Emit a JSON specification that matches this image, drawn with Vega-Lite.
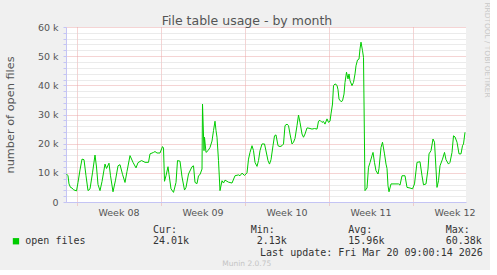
{
  "$schema": "https://vega.github.io/schema/vega-lite/v6.json",
  "background": "#f0f0f0",
  "padding": {"left": 4, "top": 1, "right": 0, "bottom": 0},
  "autosize": {"type": "pad"},
  "spacing": 7,
  "config": {
    "font": "DejaVu Sans",
    "view": {"stroke": null}
  },
  "vconcat": [
    {
      "width": 400,
      "height": 175,
      "view": {"fill": "white", "stroke": null},
      "title": {"text": "File table usage - by month", "fontSize": 12.5, "fontWeight": "normal", "color": "#555555", "font": "DejaVu Sans", "anchor": "middle", "frame": "group", "dx": -19, "offset": -26},
      "data": {"values": [
        {"hour": -20, "open_files": 9600}, {"hour": -17, "open_files": 9000}, {"hour": -15, "open_files": 6200}, {"hour": -12, "open_files": 5000}, {"hour": -9, "open_files": 4800}, {"hour": -6, "open_files": 4200}, {"hour": 0, "open_files": 3800}, {"hour": 3, "open_files": 6700}, {"hour": 7, "open_files": 11000}, {"hour": 11, "open_files": 14700}, {"hour": 15, "open_files": 14500}, {"hour": 19, "open_files": 9000}, {"hour": 23, "open_files": 3900}, {"hour": 27, "open_files": 4500}, {"hour": 32, "open_files": 10000}, {"hour": 37, "open_files": 16100}, {"hour": 40, "open_files": 12000}, {"hour": 43, "open_files": 6000}, {"hour": 47, "open_files": 3900}, {"hour": 51, "open_files": 7000}, {"hour": 57, "open_files": 13000}, {"hour": 60, "open_files": 11500}, {"hour": 65, "open_files": 13300}, {"hour": 68, "open_files": 9000}, {"hour": 73, "open_files": 3500}, {"hour": 78, "open_files": 7500}, {"hour": 83, "open_files": 12400}, {"hour": 87, "open_files": 12800}, {"hour": 92, "open_files": 9500}, {"hour": 97, "open_files": 6700}, {"hour": 101, "open_files": 10500}, {"hour": 107, "open_files": 15900}, {"hour": 113, "open_files": 13600}, {"hour": 119, "open_files": 11700}, {"hour": 123, "open_files": 13500}, {"hour": 130, "open_files": 14200}, {"hour": 135, "open_files": 13800}, {"hour": 137, "open_files": 13600}, {"hour": 144, "open_files": 13600}, {"hour": 147, "open_files": 16500}, {"hour": 154, "open_files": 17000}, {"hour": 157, "open_files": 17300}, {"hour": 161, "open_files": 16800}, {"hour": 167, "open_files": 16800}, {"hour": 172, "open_files": 19000}, {"hour": 174, "open_files": 18500}, {"hour": 176, "open_files": 7100}, {"hour": 179, "open_files": 9000}, {"hour": 183, "open_files": 12100}, {"hour": 185, "open_files": 9500}, {"hour": 189, "open_files": 4500}, {"hour": 194, "open_files": 3300}, {"hour": 199, "open_files": 6700}, {"hour": 202, "open_files": 14200}, {"hour": 207, "open_files": 14000}, {"hour": 211, "open_files": 8600}, {"hour": 216, "open_files": 4100}, {"hour": 219, "open_files": 5000}, {"hour": 224, "open_files": 9600}, {"hour": 231, "open_files": 12100}, {"hour": 234, "open_files": 12400}, {"hour": 237, "open_files": 6700}, {"hour": 241, "open_files": 6300}, {"hour": 244, "open_files": 9000}, {"hour": 247, "open_files": 9400}, {"hour": 251, "open_files": 11300}, {"hour": 252, "open_files": 33600}, {"hour": 255, "open_files": 17600}, {"hour": 256, "open_files": 22200}, {"hour": 259, "open_files": 17000}, {"hour": 263, "open_files": 17600}, {"hour": 267, "open_files": 18700}, {"hour": 271, "open_files": 20900}, {"hour": 274, "open_files": 24500}, {"hour": 277, "open_files": 27700}, {"hour": 279, "open_files": 24500}, {"hour": 281, "open_files": 22200}, {"hour": 284, "open_files": 14200}, {"hour": 287, "open_files": 3900}, {"hour": 291, "open_files": 7300}, {"hour": 294, "open_files": 6500}, {"hour": 297, "open_files": 7500}, {"hour": 304, "open_files": 6800}, {"hour": 311, "open_files": 6500}, {"hour": 317, "open_files": 9000}, {"hour": 324, "open_files": 9300}, {"hour": 327, "open_files": 9000}, {"hour": 331, "open_files": 9900}, {"hour": 336, "open_files": 9100}, {"hour": 341, "open_files": 10000}, {"hour": 344, "open_files": 14700}, {"hour": 347, "open_files": 17000}, {"hour": 351, "open_files": 19300}, {"hour": 354, "open_files": 17600}, {"hour": 357, "open_files": 13600}, {"hour": 361, "open_files": 12200}, {"hour": 364, "open_files": 14200}, {"hour": 367, "open_files": 17600}, {"hour": 371, "open_files": 19900}, {"hour": 376, "open_files": 19900}, {"hour": 379, "open_files": 17500}, {"hour": 383, "open_files": 14200}, {"hour": 386, "open_files": 13000}, {"hour": 389, "open_files": 14500}, {"hour": 393, "open_files": 19300}, {"hour": 396, "open_files": 22700}, {"hour": 399, "open_files": 23000}, {"hour": 403, "open_files": 19300}, {"hour": 407, "open_files": 19000}, {"hour": 411, "open_files": 19300}, {"hour": 414, "open_files": 19900}, {"hour": 417, "open_files": 26200}, {"hour": 421, "open_files": 26700}, {"hour": 424, "open_files": 26200}, {"hour": 427, "open_files": 23300}, {"hour": 431, "open_files": 19900}, {"hour": 434, "open_files": 20500}, {"hour": 437, "open_files": 21800}, {"hour": 441, "open_files": 26200}, {"hour": 444, "open_files": 29800}, {"hour": 447, "open_files": 27300}, {"hour": 451, "open_files": 23300}, {"hour": 454, "open_files": 22200}, {"hour": 457, "open_files": 23300}, {"hour": 461, "open_files": 25400}, {"hour": 465, "open_files": 25300}, {"hour": 471, "open_files": 25000}, {"hour": 476, "open_files": 25200}, {"hour": 481, "open_files": 25000}, {"hour": 484, "open_files": 27700}, {"hour": 487, "open_files": 28000}, {"hour": 491, "open_files": 27300}, {"hour": 494, "open_files": 27600}, {"hour": 497, "open_files": 26700}, {"hour": 501, "open_files": 28500}, {"hour": 504, "open_files": 27300}, {"hour": 507, "open_files": 27700}, {"hour": 509, "open_files": 30200}, {"hour": 512, "open_files": 33600}, {"hour": 514, "open_files": 39900}, {"hour": 517, "open_files": 40500}, {"hour": 521, "open_files": 40000}, {"hour": 523, "open_files": 38500}, {"hour": 525, "open_files": 35300}, {"hour": 529, "open_files": 34400}, {"hour": 532, "open_files": 34700}, {"hour": 535, "open_files": 37000}, {"hour": 537, "open_files": 41000}, {"hour": 540, "open_files": 44500}, {"hour": 543, "open_files": 42200}, {"hour": 545, "open_files": 43900}, {"hour": 547, "open_files": 41600}, {"hour": 551, "open_files": 39900}, {"hour": 554, "open_files": 41000}, {"hour": 557, "open_files": 43900}, {"hour": 559, "open_files": 46700}, {"hour": 562, "open_files": 48700}, {"hour": 565, "open_files": 49000}, {"hour": 567, "open_files": 52500}, {"hour": 569, "open_files": 54800}, {"hour": 572, "open_files": 51900}, {"hour": 574, "open_files": 49600}, {"hour": 577, "open_files": 3900}, {"hour": 581, "open_files": 4800}, {"hour": 584, "open_files": 11900}, {"hour": 587, "open_files": 13500}, {"hour": 591, "open_files": 15900}, {"hour": 593, "open_files": 17000}, {"hour": 596, "open_files": 13500}, {"hour": 599, "open_files": 10700}, {"hour": 603, "open_files": 9600}, {"hour": 605, "open_files": 11500}, {"hour": 609, "open_files": 18700}, {"hour": 612, "open_files": 20500}, {"hour": 616, "open_files": 16500}, {"hour": 619, "open_files": 13000}, {"hour": 621, "open_files": 11500}, {"hour": 623, "open_files": 5600}, {"hour": 625, "open_files": 3500}, {"hour": 629, "open_files": 6200}, {"hour": 637, "open_files": 6200}, {"hour": 644, "open_files": 6200}, {"hour": 647, "open_files": 5800}, {"hour": 651, "open_files": 9000}, {"hour": 657, "open_files": 9000}, {"hour": 661, "open_files": 5000}, {"hour": 667, "open_files": 4800}, {"hour": 672, "open_files": 4500}, {"hour": 676, "open_files": 6200}, {"hour": 681, "open_files": 13600}, {"hour": 687, "open_files": 13800}, {"hour": 691, "open_files": 9000}, {"hour": 694, "open_files": 5900}, {"hour": 699, "open_files": 6200}, {"hour": 703, "open_files": 11300}, {"hour": 705, "open_files": 16500}, {"hour": 709, "open_files": 17600}, {"hour": 713, "open_files": 21600}, {"hour": 716, "open_files": 20500}, {"hour": 719, "open_files": 11300}, {"hour": 721, "open_files": 5000}, {"hour": 724, "open_files": 7300}, {"hour": 727, "open_files": 12400}, {"hour": 732, "open_files": 14700}, {"hour": 736, "open_files": 17000}, {"hour": 739, "open_files": 14500}, {"hour": 744, "open_files": 13000}, {"hour": 747, "open_files": 13600}, {"hour": 751, "open_files": 17000}, {"hour": 754, "open_files": 22700}, {"hour": 757, "open_files": 22300}, {"hour": 761, "open_files": 20500}, {"hour": 765, "open_files": 16500}, {"hour": 769, "open_files": 16500}, {"hour": 772, "open_files": 19300}, {"hour": 774, "open_files": 19900}, {"hour": 777, "open_files": 23900}
      ]},
      "layer": [
        {
          "mark": {"type": "line", "color": "#00cc00", "strokeWidth": 1},
          "encoding": {
            "x": {
              "field": "hour", "type": "quantitative",
              "scale": {"domain": [-21, 779], "nice": false, "zero": false},
              "axis": {
                "title": null,
                "values": [0, 24, 48, 72, 96, 120, 144, 168, 192, 216, 240, 264, 288, 312, 336, 360, 384, 408, 432, 456, 480, 504, 528, 552, 576, 600, 624, 648, 672, 696, 720, 744, 768, 84, 252, 420, 588, 756],
                "labelExpr": "datum.value % 24 != 0 ? 'Week ' + ((datum.value - 84) / 168 + 8 < 10 ? '0' : '') + ((datum.value - 84) / 168 + 8) : ''",
                "labelOverlap": false,
                "labelFlush": false,
                "labelFont": "DejaVu Sans",
                "labelFontSize": 9.5,
                "labelColor": "#555555",
                "labelPadding": 1,
                "grid": true,
                "gridColor": {"condition": {"test": "datum.value % 168 == 0", "value": "#eaa8a8"}, "value": "#d6d6d6"},
                "gridOpacity": {"condition": {"test": "datum.value % 24 != 0", "value": 0}, "value": 1},
                "gridDash": [1, 1],
                "gridWidth": 1,
                "ticks": true,
                "tickSize": 4,
                "tickDash": [1, 1],
                "tickColor": "#eaa8a8",
                "tickOpacity": {"condition": {"test": "datum.value % 168 == 0", "value": 1}, "value": 0},
                "domainColor": "#c4c4f4",
                "domainWidth": 1
              }
            },
            "y": {
              "field": "open_files", "type": "quantitative",
              "scale": {"domain": [0, 60000], "nice": false},
              "axis": {
                "title": "number of open files",
                "titleFont": "DejaVu Sans",
                "titleFontSize": 11.3,
                "titleFontWeight": "normal",
                "titleColor": "#555555",
                "titlePadding": 22,
                "values": [0, 2000, 4000, 6000, 8000, 10000, 12000, 14000, 16000, 18000, 20000, 22000, 24000, 26000, 28000, 30000, 32000, 34000, 36000, 38000, 40000, 42000, 44000, 46000, 48000, 50000, 52000, 54000, 56000, 58000, 60000],
                "labelExpr": "datum.value % 10000 == 0 ? (datum.value == 0 ? '0' : (datum.value / 1000) + ' k') : ''",
                "labelOverlap": false,
                "labelFlush": false,
                "labelFont": "DejaVu Sans",
                "labelFontSize": 9.5,
                "labelColor": "#555555",
                "labelPadding": 5,
                "grid": true,
                "gridColor": {"condition": {"test": "datum.value % 10000 == 0", "value": "#eaa8a8"}, "value": "#d6d6d6"},
                "gridDash": [1, 1],
                "ticks": true,
                "tickSize": 3,
                "tickColor": "#c4c4f4",
                "domainColor": "#c4c4f4"
              }
            }
          }
        },
        {
          "mark": {"type": "line", "opacity": 0, "strokeOpacity": 0},
          "encoding": {
            "x": {"field": "hour", "type": "quantitative", "scale": {"domain": [-21, 779], "nice": false, "zero": false}},
            "y": {
              "field": "open_files", "type": "quantitative",
              "scale": {"domain": [0, 60000], "nice": false},
              "axis": {
                "orient": "right",
                "title": "RRDTOOL / TOBI OETIKER",
                "titleFont": "DejaVu Sans",
                "titleFontSize": 7.4,
                "titleFontWeight": "normal",
                "titleColor": "#c8c8c8",
                "titleAngle": 90,
                "titleX": 20,
                "titleY": 22.5,
                "titleAlign": "center",
                "titleBaseline": "middle",
                "labels": false,
                "ticks": false,
                "domain": false,
                "grid": false
              }
            }
          }
        }
      ],
      "resolve": {"scale": {"y": "independent"}, "axis": {"y": "independent"}}
    },
    {
      "width": 400,
      "height": 46,
      "data": {"values": [
        {"row": 1, "col": 2.82, "text": "", "kind": "swatch"},
        {"row": 0, "col": 25.58, "text": "Cur:", "kind": "mono"},
        {"row": 0, "col": 41.81, "text": "Min:", "kind": "mono"},
        {"row": 0, "col": 58.02, "text": "Avg:", "kind": "mono"},
        {"row": 0, "col": 74.2, "text": "Max:", "kind": "mono"},
        {"row": 1, "col": 4.37, "text": "open files", "kind": "mono"},
        {"row": 1, "col": 25.58, "text": "24.01k", "kind": "mono"},
        {"row": 1, "col": 42.81, "text": "2.13k", "kind": "mono"},
        {"row": 1, "col": 58.02, "text": "15.96k", "kind": "mono"},
        {"row": 1, "col": 74.2, "text": "60.38k", "kind": "mono"},
        {"row": 2, "col": 43.36, "text": "Last update: Fri Mar 20 09:00:14 2026", "kind": "mono"},
        {"row": 3, "col": 41.15, "text": "Munin 2.0.75", "kind": "credit"}
      ]},
      "encoding": {
        "x": {"field": "col", "type": "quantitative", "scale": {"domain": [11.13, 77.57], "nice": false, "zero": false}, "axis": null},
        "y": {"field": "row", "type": "quantitative", "scale": {"domain": [-0.5, 3.5], "nice": false, "zero": false, "reverse": true}, "axis": null}
      },
      "layer": [
        {
          "transform": [{"filter": "datum.kind == 'mono'"}],
          "mark": {"type": "text", "font": "DejaVu Sans Mono", "fontSize": 10, "align": "left", "baseline": "middle", "color": "#333333"},
          "encoding": {"text": {"field": "text"}}
        },
        {
          "transform": [{"filter": "datum.kind == 'credit'"}],
          "mark": {"type": "text", "font": "DejaVu Sans", "fontSize": 7.5, "align": "center", "baseline": "middle", "color": "#c4c4c4"},
          "encoding": {"text": {"field": "text"}}
        },
        {
          "transform": [{"filter": "datum.kind == 'swatch'"}],
          "mark": {"type": "square", "filled": true, "color": "#00cc00", "size": 40, "opacity": 1}
        }
      ]
    }
  ]
}
